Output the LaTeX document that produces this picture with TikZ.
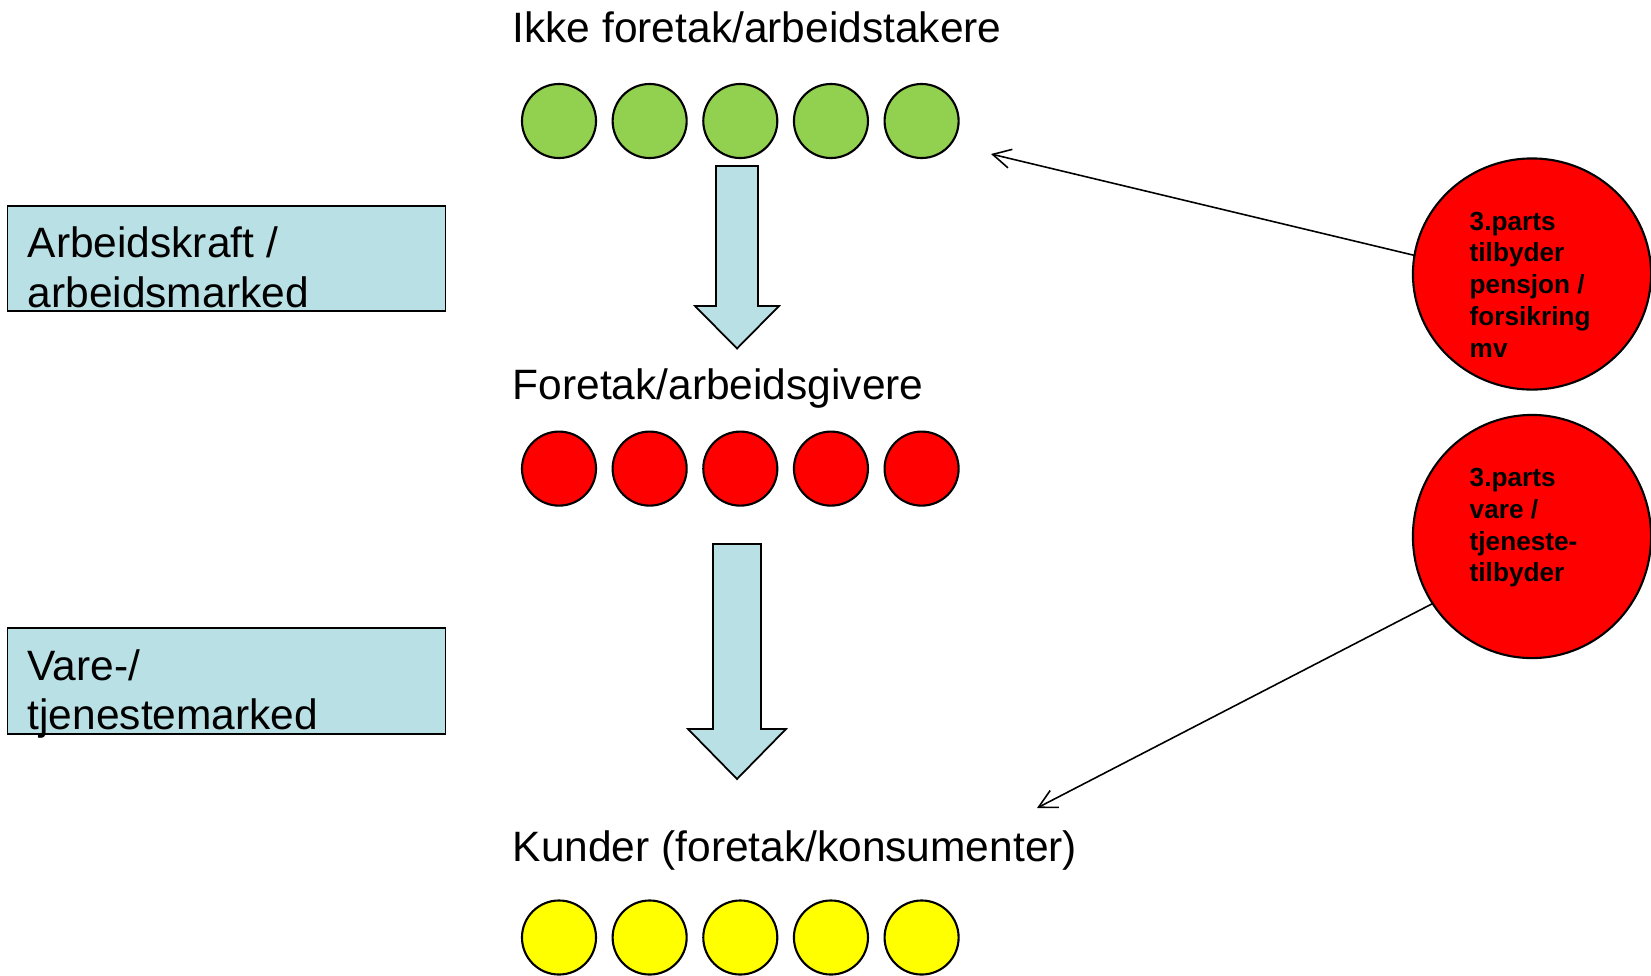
\documentclass[tikz,border=0pt]{standalone}
\usepackage{fontspec}
\setmainfont{Liberation Sans}
\usepackage{tikz}
\usetikzlibrary{shapes.geometric,arrows.meta}

\definecolor{dotgreen}{RGB}{146,208,80}
\definecolor{dotyellow}{RGB}{255,255,0}
\definecolor{marketblue}{RGB}{185,224,228}

\begin{document}
\begin{tikzpicture}[x=0.01cm, y=-0.01cm,
  actor/.style={circle, draw, line width=0.6pt, minimum size=0.74cm, inner sep=0pt},
  rowlabel/.style={anchor=base west, inner sep=0pt, font=\fontsize{12.08pt}{14.1pt}\selectfont},
  marketbox/.style={rectangle, draw, fill=marketblue, line width=0.5pt, minimum width=4.376cm, minimum height=1.056cm, inner sep=0pt},
  marketlabel/.style={anchor=north west, inner sep=0pt, align=left, font=\fontsize{12.08pt}{14.1pt}\selectfont},
  supplier/.style={ellipse, draw, fill=red, line width=0.6pt, inner sep=0pt, outer sep=0pt},
  suppliertext/.style={anchor=north west, inner sep=0pt, align=left, font=\fontsize{7.45pt}{9.05pt}\selectfont\bfseries},
  flowarrow/.style={draw, fill=marketblue, line width=0.5pt, line join=miter},
  thinarrow/.style={line width=0.45pt, -{Straight Barb[length=0.18cm, width=0.19cm]}}]
\useasboundingbox (0,0) rectangle (1651,975);
\clip (0,0) rectangle (1651,975);

% rows
\node[rowlabel] (ikketittel) at (512,42) {Ikke foretak/arbeidstakere};
\foreach \i in {1,...,5}
  \node[actor, fill=dotgreen] (ikke\i) at ({559+90.65*(\i-1)},121) {};

\node[rowlabel] (foretaktittel) at (512,399) {Foretak/arbeidsgivere};
\foreach \i in {1,...,5}
  \node[actor, fill=red] (foretak\i) at ({559+90.65*(\i-1)},468.6) {};

\node[rowlabel] (kundetittel) at (512,861) {Kunder (foretak/konsumenter)};
\foreach \i in {1,...,5}
  \node[actor, fill=dotyellow] (kunde\i) at ({559+90.65*(\i-1)},937.5) {};

% block arrows
\draw[flowarrow] (716,166) -- (758,166) -- (758,306) -- (779,306) -- (737,348.5) -- (695,306) -- (716,306) -- cycle;
\draw[flowarrow] (713,544) -- (761,544) -- (761,729) -- (786,729) -- (737,779) -- (688,729) -- (713,729) -- cycle;

% markets
\node[marketbox] (arbboks) at (226.5,258.5) {};
\node[marketlabel] (arbtekst) at (27,226.4) {Arbeidskraft /\\arbeidsmarked};
\node[marketbox] (vareboks) at (226.5,681) {};
\node[marketlabel] (varetekst) at (27,648.8) {Vare-/\\tjenestemarked};

% third parties
\node[supplier, minimum width=2.38cm, minimum height=2.31cm] (pensjon) at (1532,274) {};
\node[suppliertext] (pensjontekst) at (1469,211) {3.parts\\tilbyder\\pensjon /\\forsikring\\mv};
\node[supplier, minimum width=2.38cm, minimum height=2.43cm] (vare) at (1532,536.5) {};
\node[suppliertext] (varetekst2) at (1469,467.5) {3.parts\\vare /\\tjeneste-\\tilbyder};

\coordinate (ikkepil) at (991,154);
\coordinate (kundepil) at (1037,808);
\draw[thinarrow] (pensjon.171) -- (ikkepil);
\draw[thinarrow] (vare.214) -- (kundepil);
\end{tikzpicture}
\end{document}
